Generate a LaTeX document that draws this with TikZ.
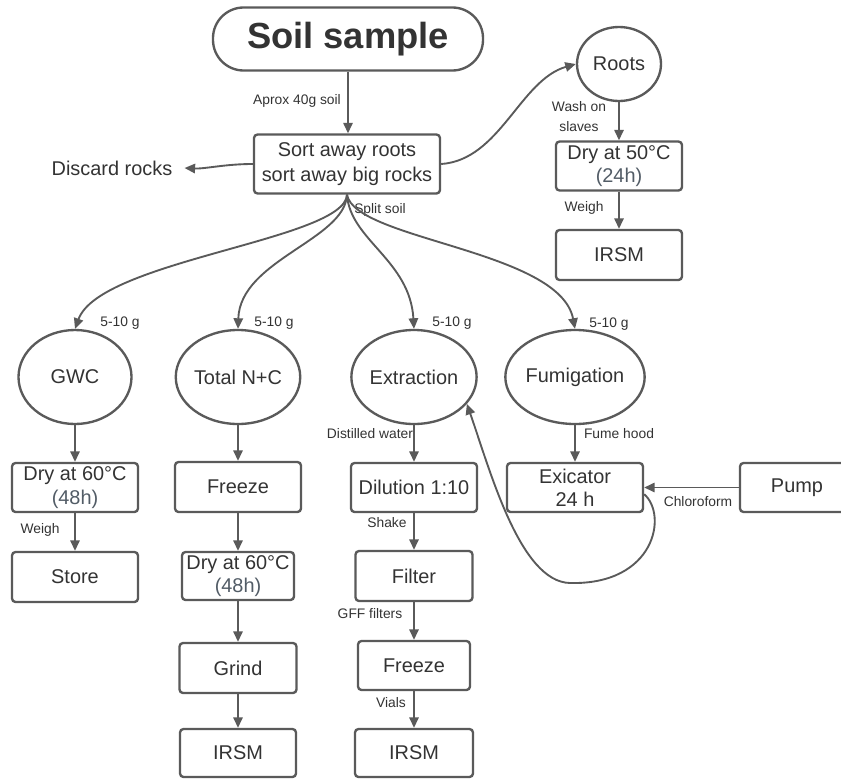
\documentclass[tikz,border=0pt]{standalone}
\usepackage{fontspec}
\setmainfont{Liberation Sans}
\usetikzlibrary{shapes.geometric,arrows.meta}
\definecolor{ln}{HTML}{5A5A5A}
\definecolor{tx}{HTML}{333333}
\definecolor{pc}{HTML}{525C66}
\begin{document}
\begin{tikzpicture}[x=0.03cm,y=0.03cm,
  wh/.style 2 args={minimum width=#1*0.03cm, minimum height=#2*0.03cm},
  box/.style={draw=ln, line width=2pt, rounded corners=3pt, fill=white, text=tx, align=center, font=\fontsize{17}{20}\selectfont, inner sep=0pt},
  ell/.style={draw=ln, line width=2pt, ellipse, fill=white, text=tx, font=\fontsize{17}{20}\selectfont, inner sep=0pt},
  lbl/.style={text=tx, font=\fontsize{11.8}{14}\selectfont, inner sep=0pt, align=center},
  arr/.style={draw=ln, line width=1.6pt, -{Triangle[length=9pt,width=8pt]}},
]
\useasboundingbox[fill=white] (0,0) rectangle (841,-778);

% top
\node[box, wh={270}{63}, rounded corners=0.92cm, font=\fontsize{31}{36}\selectfont\bfseries] (soil) at (348,-39) {Soil sample};
\node[box, wh={186}{59}, font=\fontsize{17}{21}\selectfont] (sort) at (347,-164) {Sort away roots\\sort away big rocks};
\node[lbl, font=\fontsize{17}{20}\selectfont, inner xsep=0.36cm] (discard) at (112,-168) {Discard rocks};

% roots branch
\node[ell, wh={84}{74}] (roots) at (619,-64) {Roots};
\node[box, wh={126}{49}] (dry50) at (619,-166) {Dry at 50°C\\\textcolor{pc}{(24h)}};
\node[box, wh={126}{50}] (irsmR) at (619,-255) {IRSM};

% circles
\node[ell, wh={113}{94}] (gwc) at (75,-377) {GWC};
\node[ell, wh={113}{94}] (tot) at (238,-377) {Total N+C};
\node[ell, wh={114}{94}] (ext) at (414,-377) {Extraction};
\node[ell, wh={114}{94}] (fum) at (575,-377) {Fumigation};

% GWC column
\node[box, wh={126}{49}] (dryG) at (75,-487.5) {Dry at 60°C\\\textcolor{pc}{(48h)}};
\node[box, wh={126}{50}] (store) at (75,-577) {Store};

% Total column
\node[box, wh={126}{50}] (freezeT) at (238,-487) {Freeze};
\node[box, wh={112}{48}] (dryT) at (238,-576) {Dry at 60°C\\\textcolor{pc}{(48h)}};
\node[box, wh={117}{50}] (grind) at (238,-668) {Grind};
\node[box, wh={116}{48}] (irsmT) at (238,-753) {IRSM};

% Extraction column
\node[box, wh={126}{49}] (dil) at (414,-487.5) {Dilution 1:10};
\node[box, wh={117}{50}] (filter) at (414,-576) {Filter};
\node[box, wh={112}{49}] (freezeE) at (414,-665.5) {Freeze};
\node[box, wh={118}{48}] (irsmE) at (414,-753) {IRSM};

% Fumigation
\node[box, wh={136}{49}] (exc) at (575,-487.5) {Exicator\\24 h};
\node[box, wh={114}{49}] (pump) at (797,-487.5) {Pump};

% labels
\node[lbl] (l1) at (297,-101) {Aprox 40g soil};
\node[lbl, font=\fontsize{11.8}{17}\selectfont] (l2) at (579,-117) {Wash on\\slaves};
\node[lbl] (l3) at (584,-208) {Weigh};
\node[lbl] (l4) at (380,-210) {Split soil};
\node[lbl] (g1) at (120,-323) {5-10 g};
\node[lbl] (g2) at (274,-323) {5-10 g};
\node[lbl] (g3) at (452,-323) {5-10 g};
\node[lbl] (g4) at (609,-324) {5-10 g};
\node[lbl] (l5) at (370,-434) {Distilled water};
\node[lbl] (l6) at (619,-434) {Fume hood};
\node[lbl] (l7) at (40,-530) {Weigh};
\node[lbl] (l8) at (387,-523) {Shake};
\node[lbl] (l9) at (370,-614) {GFF filters};
\node[lbl] (l10) at (391,-703) {Vials};
\node[lbl] (l11) at (698,-502) {Chloroform};

% connectors
\draw[arr] (soil.south) -- (soil.south |- sort.north);
\draw[arr] (sort.west) .. controls (225,-164) and (205,-169) .. (discard.east);
\draw[arr] (sort.east) .. controls (500,-160) and (520,-80) .. (roots.west);
\draw[arr] (roots) -- (dry50);
\draw[arr] (dry50) -- (irsmR);

\draw[arr] (sort.south) .. controls (345,-240) and (100,-260) .. (gwc.north);
\draw[arr] (sort.south) .. controls (345,-240) and (240,-260) .. (tot.north);
\draw[arr] (sort.south) .. controls (350,-240) and (410,-260) .. (ext.north);
\draw[arr] (sort.south) .. controls (355,-240) and (560,-250) .. (fum.north);

\draw[arr] (gwc) -- (dryG);
\draw[arr] (dryG) -- (store);
\draw[arr] (tot) -- (freezeT);
\draw[arr] (freezeT) -- (dryT);
\draw[arr] (dryT) -- (grind);
\draw[arr] (grind) -- (irsmT);
\draw[arr] (ext) -- (dil);
\draw[arr] (dil) -- (filter);
\draw[arr] (filter) -- (freezeE);
\draw[arr] (freezeE) -- (irsmE);
\draw[arr] (fum) -- (exc);
\draw[arr] (pump) -- (exc);
\draw[arr] ([yshift=-0.2cm]exc.east) .. controls (668,-515) and (655,-585) .. (570,-583) .. controls (520,-582) and (490,-470) .. (ext.-27);
\end{tikzpicture}
\end{document}
